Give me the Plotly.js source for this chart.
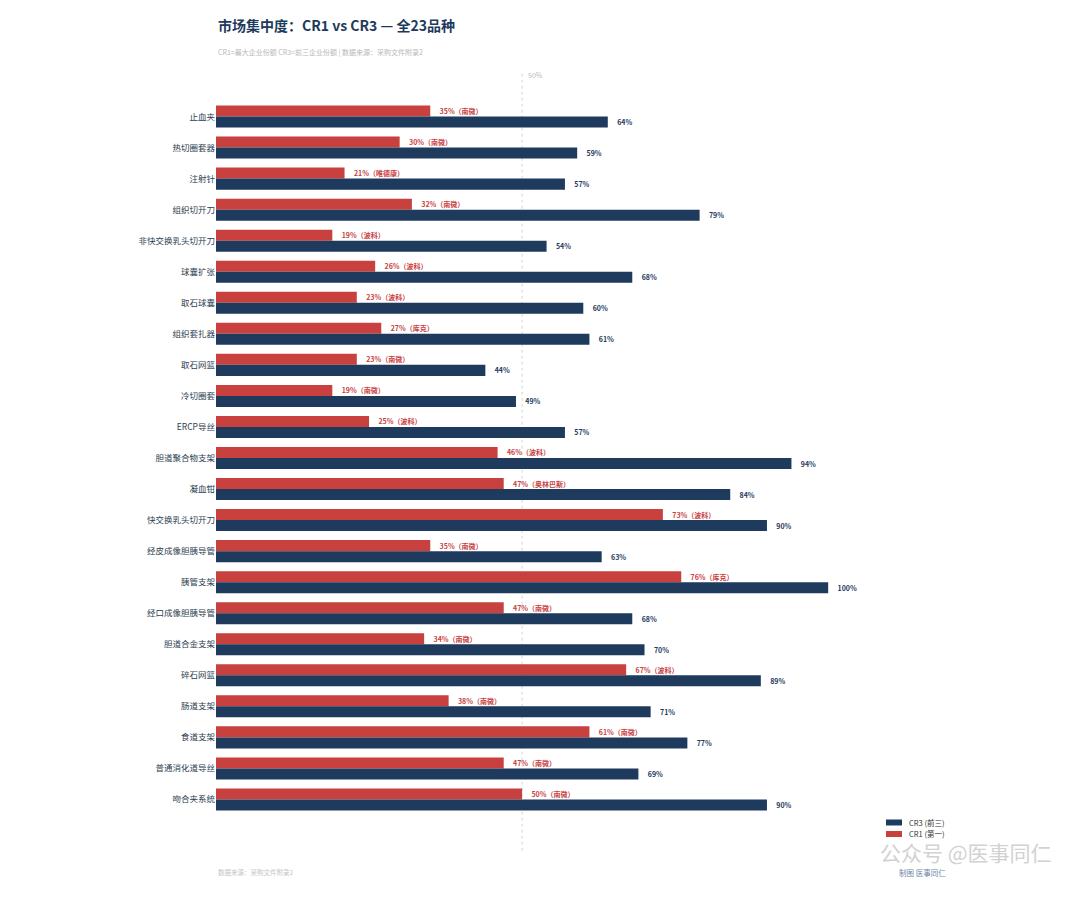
<!DOCTYPE html>
<html>
<head>
<meta charset="utf-8">
<script src="https://cdn.plot.ly/plotly-3.0.1.min.js"></script>
<style>
  body { margin: 0; background: #fff; }
  #chart { width: 1080px; height: 900px; }
</style>
</head>
<body>
<div id="chart"></div>
<script>
// 品种
var categories = ["止血夹", "热切圈套器", "注射针", "组织切开刀", "非快交换乳头切开刀", "球囊扩张",
  "取石球囊", "组织套扎器", "取石网篮", "冷切圈套", "ERCP导丝", "胆道聚合物支架", "凝血钳",
  "快交换乳头切开刀", "经皮成像胆胰导管", "胰管支架", "经口成像胆胰导管", "胆道合金支架",
  "碎石网篮", "肠道支架", "食道支架", "普通消化道导丝", "吻合夹系统"];

// CR1 = 最大企业份额 (%)
var cr1 = [35, 30, 21, 32, 19, 26, 23, 27, 23, 19, 25, 46, 47, 73, 35, 76, 47, 34, 67, 38, 61, 47, 50];
var cr1Leader = ["南微", "南微", "唯德康", "南微", "波科", "波科", "波科", "库克", "南微", "南微", "波科",
  "波科", "奥林巴斯", "波科", "南微", "库克", "南微", "南微", "波科", "南微", "南微", "南微", "南微"];

// CR3 = 前三企业份额 (%)
var cr3 = [64, 59, 57, 79, 54, 68, 60, 61, 44, 49, 57, 94, 84, 90, 63, 100, 68, 70, 89, 71, 77, 69, 90];

var seriesNames = ["CR3 (前三)", "CR1 (第一)"];

var RED = "#c8413f";
var NAVY = "#1e3a5c";
var FONT = "Noto Sans CJK SC, Noto Sans, sans-serif";
var pad = "\u00a0\u00a0\u00a0\u00a0";

var cr1Text = cr1.map(function (v, i) { return pad + v + "%（" + cr1Leader[i] + "）"; });
var cr3Text = cr3.map(function (v) { return pad + v + "%"; });

var traces = [
  {
    type: "bar", orientation: "h", name: seriesNames[1],
    y: categories, x: cr1, text: cr1Text,
    textposition: "outside", cliponaxis: false,
    textfont: { size: 7, color: RED, family: FONT, weight: "bold" },
    marker: { color: RED },
    hoverinfo: "x+y"
  },
  {
    type: "bar", orientation: "h", name: seriesNames[0],
    y: categories, x: cr3, text: cr3Text,
    textposition: "outside", cliponaxis: false,
    textfont: { size: 7, color: NAVY, family: FONT, weight: "bold" },
    marker: { color: NAVY },
    hoverinfo: "x+y"
  }
];

// hand-made legend (swatches + labels) so the rows sit tight like the original
function legendRow(y0, y1, color) {
  return {
    type: "rect", xref: "paper", yref: "paper",
    x0: 0.9517, x1: 0.9744, y0: y0, y1: y1,
    fillcolor: color, line: { width: 0 }
  };
}
function legendLabel(text, y) {
  return {
    text: text, xref: "paper", yref: "paper", x: 0.9815, y: y,
    xanchor: "left", yanchor: "middle", showarrow: false,
    font: { size: 7.5, color: "#333" }
  };
}

var layout = {
  width: 1080,
  height: 900,
  margin: { l: 216, r: 160, t: 101, b: 85 },
  paper_bgcolor: "#ffffff",
  plot_bgcolor: "#ffffff",
  font: { family: FONT, color: "#2c3e50" },
  barmode: "group",
  bargap: 0.29,
  bargroupgap: 0,
  showlegend: false,
  xaxis: {
    range: [0, 115],
    showgrid: false, zeroline: false, showticklabels: false, showline: false, ticks: ""
  },
  yaxis: {
    autorange: "reversed",
    showgrid: false, zeroline: false, showline: false, ticks: "",
    tickfont: { size: 8.5, color: "#2c3e50" }
  },
  shapes: [
    {
      type: "line", xref: "x", yref: "paper",
      x0: 50, x1: 50, y0: -0.05, y1: 1.04,
      line: { color: "#cfd4da", width: 1, dash: "dot" },
      layer: "below"
    },
    legendRow(-0.0063, -0.0147, NAVY),
    legendRow(-0.0224, -0.0308, RED)
  ],
  annotations: [
    {
      text: "<b>市场集中度：CR1 vs CR3 — 全23品种</b>",
      xref: "paper", yref: "paper", x: 0, y: 1.106,
      xanchor: "left", yanchor: "middle", showarrow: false,
      font: { size: 14, color: "#1e3a5c" }
    },
    {
      text: "CR1=最大企业份额 CR3=前三企业份额 | 数据来源：采购文件附录2",
      xref: "paper", yref: "paper", x: 0, y: 1.0686,
      xanchor: "left", yanchor: "middle", showarrow: false,
      font: { size: 7, color: "#b8b8b8" }
    },
    {
      text: "50%",
      xref: "x", yref: "paper", x: 50, y: 1.036, xshift: 4,
      xanchor: "left", yanchor: "middle", showarrow: false,
      font: { size: 7, color: "#b8b8b8" }
    },
    legendLabel(seriesNames[0], -0.0105),
    legendLabel(seriesNames[1], -0.0266),
    {
      text: "数据来源：采购文件附录2",
      xref: "paper", yref: "paper", x: 0, y: -0.0798,
      xanchor: "left", yanchor: "middle", showarrow: false,
      font: { size: 6.5, color: "#c4c4c4" }
    },
    {
      text: "公众号 @医事同仁",
      xref: "paper", yref: "paper", x: 1.19, y: -0.052,
      xanchor: "right", yanchor: "middle", showarrow: false,
      font: { size: 21, color: "#d2d2d2" }
    },
    {
      text: "制图 医事同仁",
      xref: "paper", yref: "paper", x: 0.967, y: -0.0805,
      xanchor: "left", yanchor: "middle", showarrow: false,
      font: { size: 7.5, color: "#6b86a8" }
    }
  ]
};

Plotly.newPlot("chart", traces, layout, { displayModeBar: false, responsive: false });
</script>
</body>
</html>
